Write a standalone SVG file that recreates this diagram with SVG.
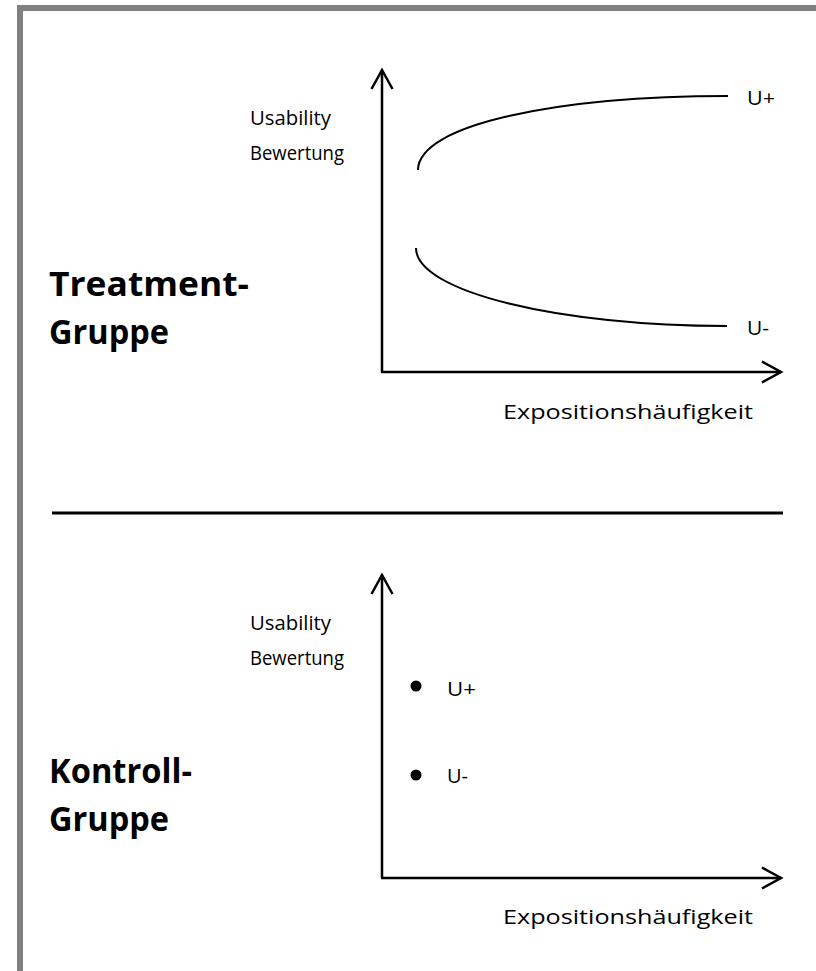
<svg xmlns="http://www.w3.org/2000/svg" width="816" height="971" viewBox="0 0 816 971">
<style>
.lbl{font-family:"Open Sans","Liberation Sans",sans-serif;font-size:20px;fill:#000}
.grp{font-family:"Open Sans","Liberation Sans",sans-serif;font-size:34px;font-weight:bold;fill:#000}
.axis{stroke:#000;stroke-width:2.5;fill:none}
.curve{stroke:#000;stroke-width:2;fill:none}
</style>
<defs>
<marker id="arr" markerUnits="userSpaceOnUse" markerWidth="24" markerHeight="24" viewBox="0 0 24 24" refX="21" refY="11" orient="auto" overflow="visible">
<path d="M2,0.5 L21,11 L2,21.5" fill="none" stroke="#000" stroke-width="2.5"/>
</marker>
</defs>
<rect width="816" height="971" fill="#fff"/>
<rect x="20" y="8" width="830" height="1000" fill="none" stroke="#808080" stroke-width="6"/>
<line x1="52" y1="513" x2="783" y2="513" stroke="#000" stroke-width="3"/>
<g id="treatment">
<text class="grp" x="49" y="296" textLength="200" lengthAdjust="spacingAndGlyphs">Treatment-</text>
<text class="grp" x="49" y="344" textLength="120" lengthAdjust="spacingAndGlyphs">Gruppe</text>
</g>
<g id="treatment-chart">
<text class="lbl" x="250" y="125" textLength="81" lengthAdjust="spacingAndGlyphs">Usability</text>
<text class="lbl" x="250" y="160" textLength="94" lengthAdjust="spacingAndGlyphs">Bewertung</text>
<text class="lbl" x="747" y="105" textLength="28" lengthAdjust="spacingAndGlyphs">U+</text>
<text class="lbl" x="747" y="335" textLength="22" lengthAdjust="spacingAndGlyphs">U-</text>
<text class="lbl" x="503" y="419" textLength="250" lengthAdjust="spacingAndGlyphs">Expositionshäufigkeit</text>
</g>
<g id="kontroll">
<text class="grp" x="49" y="783" textLength="143" lengthAdjust="spacingAndGlyphs">Kontroll-</text>
<text class="grp" x="49" y="831" textLength="120" lengthAdjust="spacingAndGlyphs">Gruppe</text>
</g>
<g id="kontroll-chart">
<text class="lbl" x="250" y="630" textLength="81" lengthAdjust="spacingAndGlyphs">Usability</text>
<text class="lbl" x="250" y="665" textLength="94" lengthAdjust="spacingAndGlyphs">Bewertung</text>
<circle cx="416" cy="686" r="5.5" fill="#000"/>
<circle cx="416" cy="775" r="5.5" fill="#000"/>
<text class="lbl" x="447" y="696" textLength="29" lengthAdjust="spacingAndGlyphs">U+</text>
<text class="lbl" x="447" y="783" textLength="21" lengthAdjust="spacingAndGlyphs">U-</text>
<text class="lbl" x="503" y="924" textLength="250" lengthAdjust="spacingAndGlyphs">Expositionshäufigkeit</text>
</g>
<g id="connectors">
<path class="axis" d="M382,372 L382,70" marker-end="url(#arr)"/>
<path class="axis" d="M381,372 L781,372" marker-end="url(#arr)"/>
<path class="curve" d="M418,170 C418,124 560,96 728,96"/>
<path class="curve" d="M416,248 C416,292 560,326 727,326"/>
<path class="axis" d="M382,878 L382,575" marker-end="url(#arr)"/>
<path class="axis" d="M381,878 L781,878" marker-end="url(#arr)"/>
</g>
</svg>
